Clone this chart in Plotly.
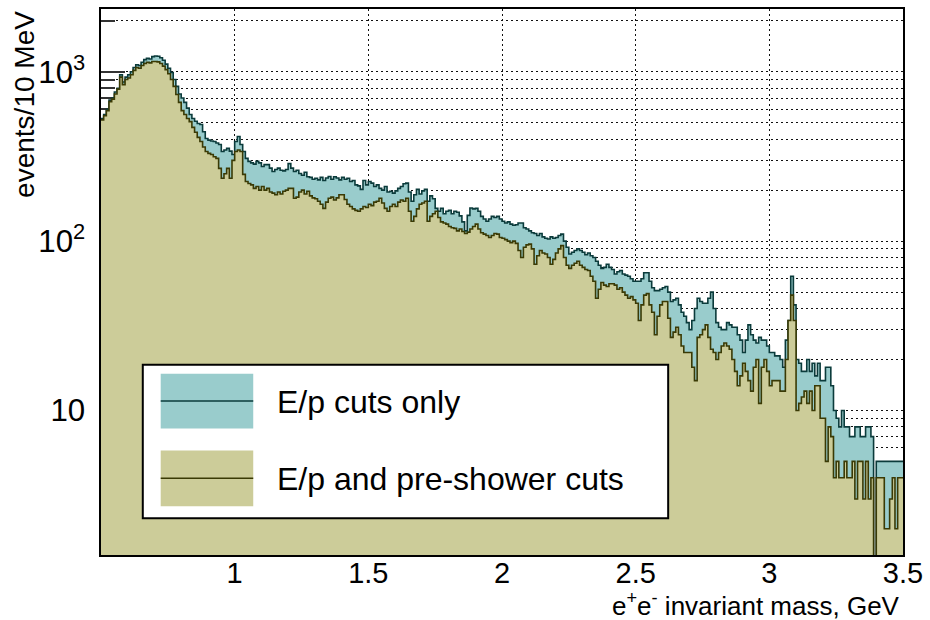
import numpy as np
import plotly.graph_objects as go

# Binning: 10 MeV bins from 0.5 to 3.5 GeV
M_MIN = 0.5
M_MAX = 3.5
BIN_WIDTH = 0.01

# events / 10 MeV, E/p cuts only
ep_only = [
    530, 560, 600, 680, 700, 760, 800, 960, 870, 930,
    960, 1000, 1060, 1100, 1090, 1140, 1180, 1200, 1190, 1230,
    1240, 1235, 1210, 1170, 1110, 1050, 990, 900, 820, 740,
    700, 660, 610, 560, 530, 510, 495, 488, 443, 404,
    395, 390, 388, 380, 372, 338, 345, 353, 340, 325,
    388, 415, 372, 338, 308, 296, 290, 285, 296, 290,
    276, 283, 283, 270, 258, 265, 270, 262, 260, 265,
    287, 270, 258, 262, 251, 245, 255, 240, 238, 232,
    235, 230, 238, 228, 236, 241, 232, 240, 236, 230,
    238, 232, 235, 225, 228, 215, 212, 202, 228, 215,
    225, 220, 210, 215, 205, 200, 210, 195, 197, 192,
    198, 205, 210, 218, 220, 195, 172, 188, 202, 190,
    198, 202, 172, 185, 178, 156, 150, 156, 145, 150,
    152, 145, 150, 148, 141, 130, 115, 142, 157, 155,
    156, 150, 140, 135, 131, 135, 140, 138, 140, 135,
    131, 128, 130, 126, 124, 125, 128, 128, 120, 118,
    115, 112, 111, 108, 111, 106, 104, 103, 106, 104,
    105, 108, 110, 100, 92, 84, 86, 88, 90, 88,
    86, 83, 85, 82, 80, 76, 72, 69, 70, 73,
    70, 68, 64, 66, 67, 64, 63, 62, 60, 58,
    58, 58, 60, 65, 65, 58, 53, 51, 51, 52,
    53, 54, 50, 44, 45, 46, 42, 38, 36, 33,
    30, 34, 40, 46, 44, 43, 43, 46, 50, 40,
    33, 31, 30, 30, 33, 32, 31, 31, 28, 26,
    22, 26, 32, 28, 26, 25, 27, 26, 26, 24,
    22, 22, 21, 21, 20, 18, 26, 34, 62, 42,
    20, 19, 17, 17, 20, 17, 19, 16, 19, 15,
    15, 18, 18, 14, 10, 9, 8, 10, 8, 8,
    7, 7, 8, 8, 7, 7, 8, 8, 7, 1,
    5, 5, 5, 5, 5, 5, 5, 5, 5, 5,
]

# events / 10 MeV, E/p and pre-shower cuts
ep_preshower = [
    520, 550, 590, 667, 690, 740, 790, 930, 840, 900,
    920, 960, 1020, 1060, 1050, 1090, 1120, 1140, 1130, 1150,
    1150, 1145, 1120, 1080, 1030, 975, 900, 820, 735, 660,
    590, 560, 530, 508, 470, 440, 410, 388, 360, 338,
    330, 325, 315, 308, 269, 235, 250, 269, 235, 300,
    338, 345, 338, 248, 225, 219, 215, 205, 210, 200,
    210, 200, 205, 195, 192, 188, 195, 190, 197, 200,
    205, 205, 179, 182, 195, 200, 190, 197, 185, 180,
    178, 172, 165, 156, 170, 179, 182, 175, 180, 188,
    188, 176, 165, 160, 155, 152, 150, 155, 160, 158,
    165, 162, 170, 172, 179, 168, 156, 150, 160, 165,
    160, 170, 175, 172, 179, 150, 131, 140, 155, 165,
    168, 172, 131, 140, 145, 150, 138, 130, 128, 126,
    122, 120, 119, 115, 118, 114, 111, 113, 118, 122,
    126, 118, 112, 110, 108, 105, 108, 111, 110, 105,
    104, 102, 100, 98, 100, 97, 88, 80, 92, 95,
    96, 90, 73, 82, 88, 85, 84, 80, 73, 78,
    85, 90, 94, 80, 72, 69, 72, 74, 76, 72,
    70, 68, 67, 62, 58, 46, 52, 57, 55, 54,
    56, 56, 55, 52, 53, 50, 48, 46, 47, 45,
    43, 34, 42, 48, 49, 42, 38, 28, 36, 42,
    44, 44, 35, 27, 29, 31, 28, 24, 22, 22,
    22, 18, 15, 27, 28, 30, 32, 27, 23, 22,
    20, 22, 24, 25, 24, 23, 20, 17, 14, 16,
    19, 17, 15, 13, 18, 20, 11, 18, 20, 17,
    14, 15, 15, 15, 13, 13, 20, 34, 48, 34,
    10, 11, 12, 13, 11, 13, 10, 14, 14, 9,
    9, 5, 8, 7, 4, 5, 4, 4, 5, 4,
    4, 5, 3, 5, 5, 3, 5, 3, 4, 1,
    4, 4, 4, 2, 2, 3, 4, 2, 4, 4,
]

series_names = ["E/p cuts only", "E/p and pre-shower cuts"]
fill_colors = ["#99cccc", "#cccc99"]
line_colors = ["#0b3b3b", "#3a3a05"]
x_tick_vals = [1, 1.5, 2, 2.5, 3, 3.5]

FONT = "Liberation Sans, Arial, Helvetica, sans-serif"

n_bins = len(ep_only)
edges = M_MIN + BIN_WIDTH * np.arange(n_bins + 1)

fig = go.Figure()
for name, vals, fc, lc in zip(series_names, [ep_only, ep_preshower], fill_colors, line_colors):
    y = list(vals) + [vals[-1]]  # repeat last value to close the final step
    fig.add_trace(go.Scatter(
        x=edges, y=y, mode="lines", name=name,
        line=dict(shape="hv", color=lc, width=1.6),
        fill="tozeroy", fillcolor=fc,
        showlegend=False, hoverinfo="skip",
    ))

# plot frame in pixels (for placing the legend box and titles)
W, H = 930, 620
L, R, T, B = 101, 23, 7, 65
PW, PH = W - L - R, H - T - B


def px(x):
    return (x - L) / PW


def py(y):
    return (H - B - y) / PH


grid_dash = "2px,3px"
grid_color = "#111"

fig.update_layout(
    width=W, height=H,
    margin=dict(l=L, r=R, t=T, b=B),
    paper_bgcolor="white", plot_bgcolor="white",
    font=dict(family=FONT, size=28, color="black"),
    showlegend=False,
    xaxis=dict(
        range=[M_MIN, M_MAX],
        tickvals=x_tick_vals,
        ticks="", ticklen=0,
        showgrid=True, gridcolor=grid_color, gridwidth=1, griddash=grid_dash,
        showline=True, linecolor="black", linewidth=1.5, mirror=True,
        zeroline=False,
        tickfont=dict(size=29),
        ticklabelstandoff=-9,
        layer="above traces",
    ),
    yaxis=dict(
        type="log",
        range=[np.log10(1.4), 3.371],
        dtick=1,
        exponentformat="power",
        ticks="inside", ticklen=24, tickwidth=1.5, tickcolor="#333",
        showgrid=True, gridcolor=grid_color, gridwidth=1, griddash=grid_dash,
        minor=dict(dtick="D1", ticks="inside", ticklen=14, tickwidth=1.5,
                   tickcolor="#333", showgrid=True, gridcolor=grid_color,
                   gridwidth=1, griddash=grid_dash),
        showline=True, linecolor="black", linewidth=1.5, mirror=True,
        zeroline=False,
        tickfont=dict(size=25),
        ticklabelstandoff=9,
        layer="below traces",
    ),
)

# axis titles
fig.add_annotation(
    text="e<sup>+</sup>e<sup>-</sup> invariant mass, GeV",
    xref="paper", yref="paper", x=px(906), y=py(605),
    xanchor="right", yanchor="middle", showarrow=False,
    font=dict(size=26),
)
fig.add_annotation(
    text="events/10 MeV", textangle=-90,
    xref="paper", yref="paper", x=px(24), y=py(7),
    xanchor="center", yanchor="top", showarrow=False,
    font=dict(size=28),
)

# legend box drawn by hand
fig.add_shape(type="rect", xref="paper", yref="paper",
              x0=px(143), x1=px(671), y0=py(518), y1=py(364),
              fillcolor="white", line=dict(color="black", width=2))
legend_rows = [(373, 428), (450, 506)]
for (top, bot), name, fc, lc in zip(legend_rows, series_names, fill_colors, line_colors):
    fig.add_shape(type="rect", xref="paper", yref="paper",
                  x0=px(161), x1=px(254), y0=py(bot), y1=py(top),
                  fillcolor=fc, line=dict(width=0))
    mid = (top + bot) / 2
    fig.add_shape(type="line", xref="paper", yref="paper",
                  x0=px(161), x1=px(254), y0=py(mid), y1=py(mid),
                  line=dict(color=lc, width=1.5))
    fig.add_annotation(text=name, xref="paper", yref="paper",
                       x=px(276), y=py(mid + 1), xanchor="left", yanchor="middle",
                       showarrow=False, font=dict(size=32))

fig.write_html("out.html")
